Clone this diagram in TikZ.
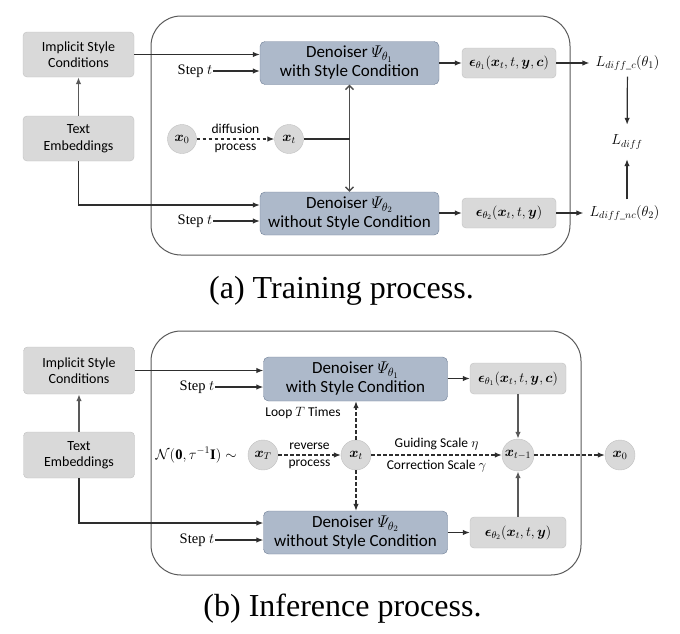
\RequirePackage{fix-cm}
\documentclass[tikz,border=0pt]{standalone}
\usepackage{amsmath,amssymb}
\usepackage{fontspec}
\setmainfont{Liberation Serif}
\newfontfamily\cfont{Carlito}
\usepackage{tikz}
\usetikzlibrary{arrows.meta, positioning, calc}

\definecolor{boxgray}{HTML}{D9D9D9}
\definecolor{boxline}{HTML}{C0C0C0}
\definecolor{denfill}{HTML}{ADB9CA}
\definecolor{denline}{HTML}{6F7F96}
\definecolor{linegray}{HTML}{2E2E2E}

\begin{document}
\begin{tikzpicture}[
    x=1pt, y=-1pt,
    font=\cfont\fontsize{13.5}{15}\selectfont,
    % Define specific node styles
    cond_node/.style={rectangle, rounded corners=4pt, draw=boxline, fill=boxgray, align=center, minimum width=111pt, minimum height=45pt, inner sep=2pt, font=\cfont\fontsize{14}{16.5}\selectfont},
    den_node/.style={rectangle, rounded corners=5pt, draw=denline, fill=denfill, align=center, minimum width=179pt, minimum height=43pt, inner sep=2pt, font=\cfont\fontsize{17}{19}\selectfont},
    eps_node/.style={rectangle, rounded corners=4pt, draw=boxline, fill=boxgray, minimum width=94pt, minimum height=30pt, inner sep=2pt, font=\fontsize{14}{16}\selectfont},
    var_node/.style={circle, draw=boxline, fill=boxgray, minimum size=29pt, inner sep=0pt, font=\fontsize{14}{16}\selectfont},
    step_node/.style={inner sep=1pt, font=\rmfamily\fontsize{14.5}{16}\selectfont},
    loss_node/.style={inner sep=6pt, font=\fontsize{14.5}{16}\selectfont},
    frame/.style={draw=black!65, line width=1pt, rounded corners=30pt},
    cap_node/.style={font=\rmfamily\fontsize{32}{36}\selectfont},
    arrow/.style={-{Latex[length=7pt, width=5.5pt]}, line width=1.2pt, draw=linegray},
    darrow/.style={arrow, dash pattern=on 3.5pt off 2.5pt},
    garrow/.style={arrow, line width=1.6pt, draw=black!65},
]
\useasboundingbox (0,0) rectangle (680,633);

% (a) Training
\draw[frame] (151,16) rectangle (570,255);

\node[cond_node] (impl_a) at (78.5,54.5) {Implicit Style\\Conditions};
\node[cond_node] (text_a) at (78.5,138.5) {Text\\Embeddings};
\node[den_node] (den1_a) at (349.5,63) {Denoiser $\varPsi_{\theta_1}$\\with Style Condition};
\node[den_node] (den2_a) at (349.5,213.5) {Denoiser $\varPsi_{\theta_2}$\\without Style Condition};
\node[eps_node] (eps1_a) at (509,63) {$\boldsymbol{\epsilon}_{\theta_1}(\boldsymbol{x}_t, t, \boldsymbol{y}, \boldsymbol{c})$};
\node[eps_node] (eps2_a) at (509,213) {$\boldsymbol{\epsilon}_{\theta_2}(\boldsymbol{x}_t, t, \boldsymbol{y})$};
\node[var_node] (x0_a) at (182,139) {$\boldsymbol{x}_0$};
\node[var_node] (xt_a) at (289,139) {$\boldsymbol{x}_t$};
\node[step_node] (step1_a) at (195,71) {Step $t$};
\node[step_node] (step2_a) at (195,221) {Step $t$};
\node[loss_node] (lc_a) at (627.5,63) {$L_{diff\_c}(\theta_1)$};
\node[loss_node] (lnc_a) at (624.5,213) {$L_{diff\_nc}(\theta_2)$};
\node[loss_node, inner sep=10pt] (ldiff_a) at (627,142) {$L_{diff}$};
\node[cap_node] (cap_a) at (341.5,291) {(a) Training process.};

\draw[arrow] (impl_a.east) -- (impl_a.east -| den1_a.west);
\draw[arrow] (step1_a) -- (step1_a -| den1_a.west);
\draw[garrow] (text_a) -- (impl_a);
\draw[arrow] (text_a.south) |- ($(den2_a.west)+(0,-8.5)$);
\draw[arrow] (step2_a) -- (step2_a -| den2_a.west);
\draw[darrow] (x0_a) -- node[above=1pt] {diffusion} node[below=1pt] {process} (xt_a);
\draw[{Straight Barb[length=4pt]}-{Straight Barb[length=4pt]}, line width=1.3pt, draw=linegray!85] (den1_a.south) -- (den2_a.north);
\draw[line width=1.2pt, draw=linegray] (xt_a) -- (xt_a -| den1_a.south);
\draw[arrow] (den1_a) -- (eps1_a);
\draw[arrow] (eps2_a.west -| den2_a.east) -- (eps2_a);
\draw[arrow] (eps1_a) -- (lc_a);
\draw[arrow] (eps2_a) -- (lnc_a);
\draw[arrow] (lc_a) -- (ldiff_a);
\draw[arrow] (lnc_a.north -| ldiff_a) -- (ldiff_a);

% (b) Inference
\draw[frame] (151,331) rectangle (581,575);

\node[cond_node, minimum height=47pt] (impl_b) at (79,370.5) {Implicit Style\\Conditions};
\node[cond_node, minimum height=46pt] (text_b) at (79,455) {Text\\Embeddings};
\node[den_node, minimum width=184pt, minimum height=44pt] (den1_b) at (355.5,379) {Denoiser $\varPsi_{\theta_1}$\\with Style Condition};
\node[den_node, minimum width=184pt, minimum height=43pt] (den2_b) at (355.5,532.5) {Denoiser $\varPsi_{\theta_2}$\\without Style Condition};
\node[eps_node, minimum width=96pt, minimum height=31pt] (eps1_b) at (518,378.5) {$\boldsymbol{\epsilon}_{\theta_1}(\boldsymbol{x}_t, t, \boldsymbol{y}, \boldsymbol{c})$};
\node[eps_node, minimum width=96pt, minimum height=31pt] (eps2_b) at (518,532.5) {$\boldsymbol{\epsilon}_{\theta_2}(\boldsymbol{x}_t, t, \boldsymbol{y})$};
\node[var_node, minimum size=30pt] (xT_b) at (263,455) {$\boldsymbol{x}_T$};
\node[var_node, minimum size=30pt] (xt_b) at (356,455) {$\boldsymbol{x}_t$};
\node[var_node, minimum size=32pt] (xtm_b) at (518,455) {$\boldsymbol{x}_{t-1}$};
\node[var_node, minimum size=30pt] (x0_b) at (620,455) {$\boldsymbol{x}_0$};
\node[loss_node, inner sep=2pt, left=9pt of xT_b] (noise_b) {$\mathcal{N}(\mathbf{0}, \tau^{-1}\mathbf{I}) \sim$};
\node (loop_b) at (303,413) {Loop $T$ Times};
\node[step_node] (step1_b) at (197,387) {Step $t$};
\node[step_node] (step2_b) at (197,540) {Step $t$};
\node[cap_node] (cap_b) at (342.5,609) {(b) Inference process.};

\draw[arrow] (impl_b.east) -- (impl_b.east -| den1_b.west);
\draw[arrow] (step1_b) -- (step1_b -| den1_b.west);
\draw[garrow] (text_b) -- (impl_b);
\draw[arrow] (text_b.south) |- ($(den2_b.west)+(0,-9.5)$);
\draw[arrow] (step2_b) -- (step2_b -| den2_b.west);
\draw[darrow] (xT_b) -- node[above=1pt] {reverse} node[below=1pt] {process} (xt_b);
\draw[darrow] (xt_b) -- (xt_b |- den1_b.south);
\draw[darrow] (xt_b) -- (xt_b |- den2_b.north);
\draw[darrow] (xt_b) -- node[above=1pt] {Guiding Scale $\eta$} node[below=1pt] {Correction Scale $\gamma$} (xtm_b);
\draw[darrow] (xtm_b) -- (x0_b);
\draw[arrow] (eps1_b.west -| den1_b.east) -- (eps1_b);
\draw[arrow] (eps2_b.west -| den2_b.east) -- (eps2_b);
\draw[garrow] (eps1_b) -- (xtm_b);
\draw[garrow] (eps2_b) -- (xtm_b);

\end{tikzpicture}
\end{document}
